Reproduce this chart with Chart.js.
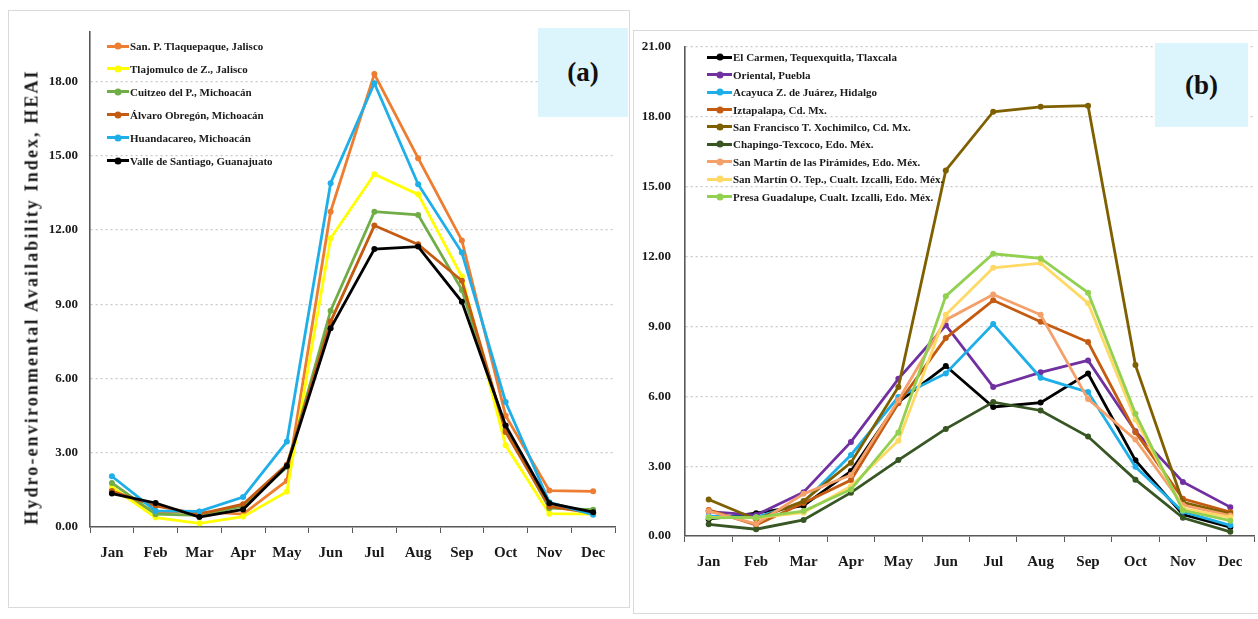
<!DOCTYPE html>
<html lang="en">
<head>
    <meta charset="UTF-8">
    <title>Hydro-environmental Availability Index</title>
    <script src="https://cdn.jsdelivr.net/npm/chart.js"></script>
    <style>
        body {
            margin: 0;
            padding: 0;
            background: #fff;
            font-family: "Liberation Serif", serif;
        }
        #page {
            position: relative;
            width: 1258px;
            height: 619px;
            overflow: hidden;
        }
        canvas {
            position: absolute;
            top: 0;
        }
        .frame {
            position: absolute;
            border: 1px solid #dadada;
        }
        .tag {
            position: absolute;
            background: #dcf4fb;
            display: flex;
            align-items: center;
            justify-content: center;
            font-weight: bold;
            font-size: 27px;
            color: #111;
        }
        .legend-item {
            position: absolute;
            display: flex;
            align-items: center;
            height: 14px;
            font-weight: bold;
            font-size: 11px;
            color: #1a1a1a;
            white-space: nowrap;
        }
        .sample {
            position: relative;
            height: 3px;
            margin-right: 1px;
        }
        .sample span {
            position: absolute;
            left: 50%;
            top: 50%;
            width: 7px;
            height: 7px;
            border-radius: 50%;
            transform: translate(-50%, -50%);
        }
        #ytitle {
            position: absolute;
            left: 32px;
            top: 297px;
            transform: translate(-50%, -50%) rotate(-90deg);
            white-space: nowrap;
            font-weight: bold;
            font-size: 18px;
            letter-spacing: 2.1px;
            color: #1a1a1a;
        }
    </style>
</head>
<body>
<div id="page">
    <div class="frame" style="left:8px;top:10px;width:620px;height:596px;"></div>
    <div class="frame" style="left:633px;top:30px;width:640px;height:582px;"></div>
    <canvas id="chartA" width="630" height="619" style="left:0px;"></canvas>
    <canvas id="chartB" width="628" height="619" style="left:630px;"></canvas>
    <div id="ytitle">Hydro-environmental Availability Index, HEAI</div>
    <div class="tag" style="left:538px;top:28px;width:90px;height:89px;">(a)</div>
    <div class="tag" style="left:1155px;top:43px;width:93px;height:84px;">(b)</div>
</div>
<script>
    const months = ["Jan", "Feb", "Mar", "Apr", "May", "Jun", "Jul", "Aug", "Sep", "Oct", "Nov", "Dec"];

    // Panel (a)
    const namesA = [
        "San. P. Tlaquepaque, Jalisco",
        "Tlajomulco de Z., Jalisco",
        "Cuitzeo del P., Michoacán",
        "Álvaro Obregón, Michoacán",
        "Huandacareo, Michoacán",
        "Valle de Santiago, Guanajuato"
    ];
    const colorsA = ["#ed7d31", "#ffff00", "#70ad47", "#c55a11", "#1eaee8", "#000000"];
    const tlaquepaque = [1.50, 0.58, 0.62, 0.52, 1.87, 12.74, 18.30, 14.90, 11.58, 4.50, 1.47, 1.44];
    const tlajomulco  = [1.62, 0.38, 0.15, 0.42, 1.43, 11.67, 14.25, 13.44, 10.12, 3.30, 0.54, 0.52];
    const cuitzeo     = [1.78, 0.52, 0.47, 0.85, 2.42, 8.74, 12.74, 12.61, 9.58, 3.95, 0.76, 0.70];
    const alvaro      = [1.45, 0.85, 0.52, 0.92, 2.52, 8.30, 12.18, 11.42, 9.95, 3.84, 0.83, 0.56];
    const huandacareo = [2.05, 0.65, 0.63, 1.21, 3.45, 13.89, 17.93, 13.85, 11.09, 5.05, 1.00, 0.50];
    const valle       = [1.35, 0.97, 0.40, 0.71, 2.46, 8.03, 11.23, 11.33, 9.10, 4.10, 0.96, 0.60];
    const valuesA = [tlaquepaque, tlajomulco, cuitzeo, alvaro, huandacareo, valle];

    // Panel (b)
    const namesB = [
        "El Carmen, Tequexquitla, Tlaxcala",
        "Oriental, Puebla",
        "Acayuca Z. de Juárez, Hidalgo",
        "Iztapalapa, Cd. Mx.",
        "San Francisco T. Xochimilco, Cd. Mx.",
        "Chapingo-Texcoco, Edo. Méx.",
        "San Martín de las Pirámides, Edo. Méx.",
        "San Martín O. Tep., Cualt. Izcalli, Edo. Méx.",
        "Presa Guadalupe, Cualt. Izcalli, Edo. Méx."
    ];
    const colorsB = ["#000000", "#7030a0", "#1eaee8", "#c55a11", "#7f6000", "#375623", "#f4a06a", "#ffd966", "#92d050"];
    const elCarmen   = [0.72, 0.98, 1.30, 2.79, 5.75, 7.30, 5.54, 5.73, 6.98, 3.25, 0.92, 0.38];
    const oriental   = [1.05, 0.90, 1.88, 4.04, 6.75, 9.05, 6.40, 7.03, 7.54, 4.50, 2.32, 1.24];
    const acayuca    = [0.85, 0.80, 1.45, 3.48, 5.97, 6.98, 9.10, 6.80, 6.18, 2.97, 1.04, 0.46];
    const iztapalapa = [1.12, 0.47, 1.42, 2.40, 5.70, 8.50, 10.12, 9.20, 8.33, 4.46, 1.60, 1.03];
    const xochimilco = [1.57, 0.72, 1.50, 3.15, 6.40, 15.70, 18.22, 18.43, 18.48, 7.34, 1.45, 0.95];
    const chapingo   = [0.50, 0.29, 0.69, 1.86, 3.26, 4.60, 5.75, 5.39, 4.27, 2.42, 0.78, 0.18];
    const piramides  = [1.07, 0.52, 1.81, 2.62, 5.83, 9.28, 10.37, 9.50, 5.88, 4.14, 1.33, 0.88];
    const oTep       = [0.80, 0.78, 1.00, 2.14, 4.09, 9.50, 11.52, 11.72, 10.00, 5.00, 1.18, 0.80];
    const guadalupe  = [0.78, 0.80, 1.07, 2.00, 4.45, 10.30, 12.12, 11.92, 10.45, 5.25, 1.10, 0.66];
    const valuesB = [elCarmen, oriental, acayuca, iztapalapa, xochimilco, chapingo, piramides, oTep, guadalupe];

    const fontFamily = "'Liberation Serif', serif";

    function makeDatasets(names, values, colors) {
        return names.map((name, i) => ({
            label: name,
            data: values[i],
            borderColor: colors[i],
            backgroundColor: colors[i],
            borderWidth: 2.8,
            pointRadius: 3,
            pointBorderWidth: 0,
            tension: 0,
            // later series sit on top, like the original
            order: names.length - i
        }));
    }

    function makeChart(canvasId, datasets, cfg) {
        return new Chart(document.getElementById(canvasId), {
            type: "line",
            data: { labels: months, datasets: datasets },
            options: {
                responsive: false,
                animation: false,
                layout: { padding: { left: 0, right: cfg.right, top: cfg.top, bottom: 0 } },
                plugins: { legend: { display: false }, tooltip: { enabled: false } },
                scales: {
                    x: {
                        offset: true,
                        afterFit: (scale) => { scale.height = cfg.xHeight; },
                        grid: {
                            offset: true,
                            drawOnChartArea: false,
                            drawTicks: true,
                            tickLength: 6,
                            color: "#595959"
                        },
                        border: { color: "#595959", width: 1.6 },
                        ticks: {
                            padding: 11,
                            color: "#1a1a1a",
                            font: { family: fontFamily, size: 15, weight: "bold" }
                        }
                    },
                    y: {
                        min: 0,
                        max: cfg.max,
                        afterFit: (scale) => { scale.width = cfg.yWidth; },
                        grid: {
                            drawTicks: false,
                            color: "#c8c8c8",
                            lineWidth: 1.2
                        },
                        // in v4 border.dash styles the grid lines (dotted)
                        border: { color: "#595959", width: 1.6, dash: [2, 3] },
                        ticks: {
                            stepSize: 3,
                            includeBounds: false,
                            padding: cfg.yPad,
                            color: "#1a1a1a",
                            font: { family: fontFamily, size: 13, weight: "bold" },
                            callback: (v) => v.toFixed(2)
                        }
                    }
                }
            }
        });
    }

    function buildLegend(names, colors, left, top, step, lineW) {
        const page = document.getElementById("page");
        names.forEach((name, i) => {
            const item = document.createElement("div");
            item.className = "legend-item";
            item.style.left = left + "px";
            item.style.top = (top + i * step - 7) + "px";
            const sample = document.createElement("div");
            sample.className = "sample";
            sample.style.width = lineW + "px";
            sample.style.background = colors[i];
            const dot = document.createElement("span");
            dot.style.background = colors[i];
            sample.appendChild(dot);
            const text = document.createElement("span");
            text.textContent = name;
            item.appendChild(sample);
            item.appendChild(text);
            page.appendChild(item);
        });
    }

    makeChart("chartA", makeDatasets(namesA, valuesA, colorsA),
        { max: 20, top: 32, right: 15, xHeight: 92, yWidth: 90, yPad: 12 });
    makeChart("chartB", makeDatasets(namesB, valuesB, colorsB),
        { max: 21, top: 47, right: 0, xHeight: 83, yWidth: 55, yPad: 14 });

    buildLegend(namesA, colorsA, 107, 46, 22.9, 22);
    buildLegend(namesB, colorsB, 707, 57.3, 17.4, 25);
</script>
</body>
</html>
